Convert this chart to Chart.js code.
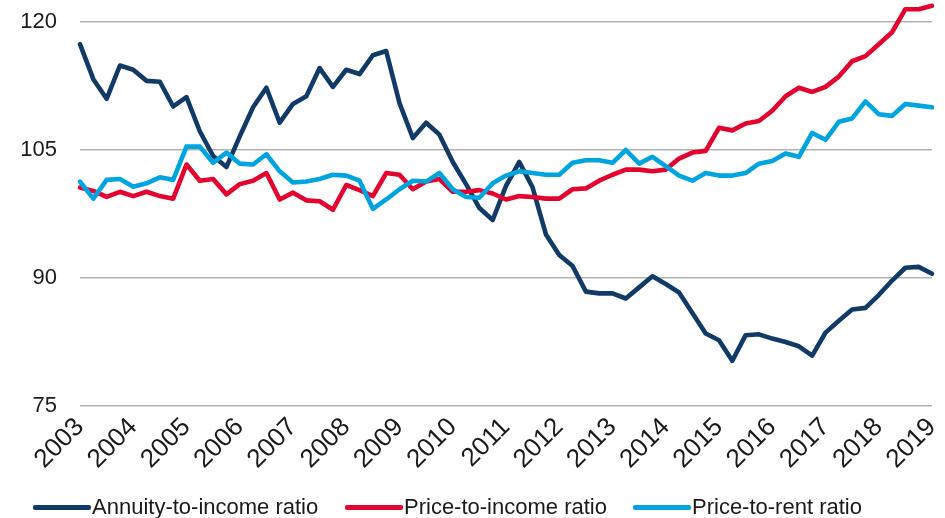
<!DOCTYPE html>
<html>
<head>
<meta charset="utf-8">
<script src="https://cdn.jsdelivr.net/npm/chart.js@4/dist/chart.umd.min.js"></script>
<style>
  html,body{margin:0;padding:0;background:#fff;}
  #wrap{position:relative;width:945px;height:518px;overflow:hidden;}
  #legend{position:absolute;left:0;top:0;width:945px;height:518px;pointer-events:none;
    font-family:"Liberation Sans",Arial,sans-serif;font-size:22px;color:#1a1a1a;}
  .item{position:absolute;top:494px;height:26px;display:flex;align-items:center;white-space:nowrap;}
  .swatch{display:inline-block;width:58px;height:5px;border-radius:2px;margin-right:1px;}
</style>
</head>
<body>
<div id="wrap">
  <canvas id="c" width="945" height="518"></canvas>
  <div id="legend"></div>
</div>
<script>
const quarters = [
  "2003Q1","2003Q2","2003Q3","2003Q4","2004Q1","2004Q2","2004Q3","2004Q4",
  "2005Q1","2005Q2","2005Q3","2005Q4","2006Q1","2006Q2","2006Q3","2006Q4",
  "2007Q1","2007Q2","2007Q3","2007Q4","2008Q1","2008Q2","2008Q3","2008Q4",
  "2009Q1","2009Q2","2009Q3","2009Q4","2010Q1","2010Q2","2010Q3","2010Q4",
  "2011Q1","2011Q2","2011Q3","2011Q4","2012Q1","2012Q2","2012Q3","2012Q4",
  "2013Q1","2013Q2","2013Q3","2013Q4","2014Q1","2014Q2","2014Q3","2014Q4",
  "2015Q1","2015Q2","2015Q3","2015Q4","2016Q1","2016Q2","2016Q3","2016Q4",
  "2017Q1","2017Q2","2017Q3","2017Q4","2018Q1","2018Q2","2018Q3","2018Q4",
  "2019Q1"
];

const annuityToIncome = [
  117.4,113.3,111.0,114.9,114.4,113.1,113.0,110.1,111.2,107.2,104.3,103.0,106.6,
  110.0,112.3,108.2,110.4,111.3,114.6,112.4,114.4,113.9,116.1,116.6,110.5,106.4,108.2,
  106.8,103.6,101.0,98.2,96.8,100.8,103.6,100.6,95.1,92.7,91.4,88.4,88.2,
  88.2,87.6,88.9,90.2,89.3,88.3,85.9,83.5,82.7,80.3,83.3,83.4,82.9,
  82.5,82.0,80.9,83.6,85.0,86.3,86.5,88.0,89.7,91.2,91.3,90.5
];

const priceToIncome = [
  100.6,100.2,99.5,100.1,99.6,100.1,99.6,99.3,103.3,101.4,101.6,99.8,101.0,
  101.4,102.3,99.2,100.0,99.1,99.0,98.0,100.9,100.3,99.6,102.3,102.1,100.4,101.3,
  101.6,100.1,100.1,100.3,99.9,99.2,99.6,99.5,99.3,99.3,100.4,100.5,101.4,
  102.1,102.7,102.7,102.5,102.7,104.0,104.7,104.9,107.6,107.3,108.1,108.4,109.6,
  111.3,112.3,111.8,112.4,113.6,115.4,116.0,117.4,118.8,121.5,121.5,121.9
];

const priceToRent = [
  101.3,99.3,101.5,101.6,100.7,101.1,101.8,101.5,105.4,105.4,103.5,104.7,103.4,
  103.3,104.5,102.5,101.2,101.3,101.6,102.1,102.0,101.4,98.1,99.2,100.4,101.4,101.3,
  102.3,100.4,99.5,99.4,101.1,102.0,102.5,102.3,102.1,102.1,103.5,103.8,103.8,
  103.5,105.0,103.4,104.2,103.1,102.0,101.4,102.3,102.0,102.0,102.3,103.4,103.7,
  104.6,104.2,107.0,106.2,108.3,108.7,110.7,109.2,109.0,110.4,110.2,110.0
];

const yTicks = [75, 90, 105, 120];
const seriesNames = ["Annuity-to-income ratio", "Price-to-income ratio", "Price-to-rent ratio"];
const seriesColors = ["#123a66", "#e4032e", "#00a5e0"];

const seriesData = [annuityToIncome, priceToIncome, priceToRent];
const drawOrder = [2, 1, 0];

const datasets = seriesData.map((d, i) => ({
  label: seriesNames[i],
  data: d,
  borderColor: seriesColors[i],
  backgroundColor: seriesColors[i],
  borderWidth: 4.6,
  pointRadius: 0,
  tension: 0,
  fill: false,
  clip: false,
  order: drawOrder[i],
  borderJoinStyle: 'round',
  borderCapStyle: 'round'
}));

new Chart(document.getElementById('c'), {
  type: 'line',
  data: { labels: quarters, datasets },
  options: {
    responsive: false,
    animation: false,
    maintainAspectRatio: false,
    layout: { padding: { left: 0, right: 13, top: 22, bottom: 0 } },
    plugins: { legend: { display: false }, tooltip: { enabled: false } },
    scales: {
      x: {
        type: 'category',
        offset: false,
        grid: { display: false, drawTicks: false },
        border: { display: false },
        ticks: {
          autoSkip: false,
          maxRotation: 45,
          minRotation: 45,
          padding: 6,
          color: '#1a1a1a',
          font: { family: '"Liberation Sans", Arial, sans-serif', size: 26 },
          callback: function(v, i) {
            const q = quarters[i];
            return q.endsWith('Q1') ? q.slice(0, 4) : '';
          }
        },
        afterFit: function(scale) {
          scale.height = 112;
          scale.paddingLeft = 0;
          scale.paddingRight = 0;
        }
      },
      y: {
        min: 75,
        max: 120,
        afterBuildTicks: function(scale) { scale.ticks = yTicks.map(v => ({ value: v })); },
        grid: { color: '#b3b3b3', lineWidth: 1.6, drawTicks: false },
        border: { display: false },
        ticks: {
          padding: 23,
          color: '#1a1a1a',
          font: { family: '"Liberation Sans", Arial, sans-serif', size: 22 }
        },
        afterFit: function(scale) {
          scale.width = 80;
          scale.paddingTop = 0;
          scale.paddingBottom = 0;
        }
      }
    }
  }
});

const legendLefts = [33, 345, 633];
const legendEl = document.getElementById('legend');
seriesNames.forEach((name, i) => {
  const item = document.createElement('div');
  item.className = 'item';
  item.style.left = legendLefts[i] + 'px';
  const sw = document.createElement('span');
  sw.className = 'swatch';
  sw.style.background = seriesColors[i];
  const tx = document.createElement('span');
  tx.textContent = name;
  item.appendChild(sw);
  item.appendChild(tx);
  legendEl.appendChild(item);
});
</script>
</body>
</html>
